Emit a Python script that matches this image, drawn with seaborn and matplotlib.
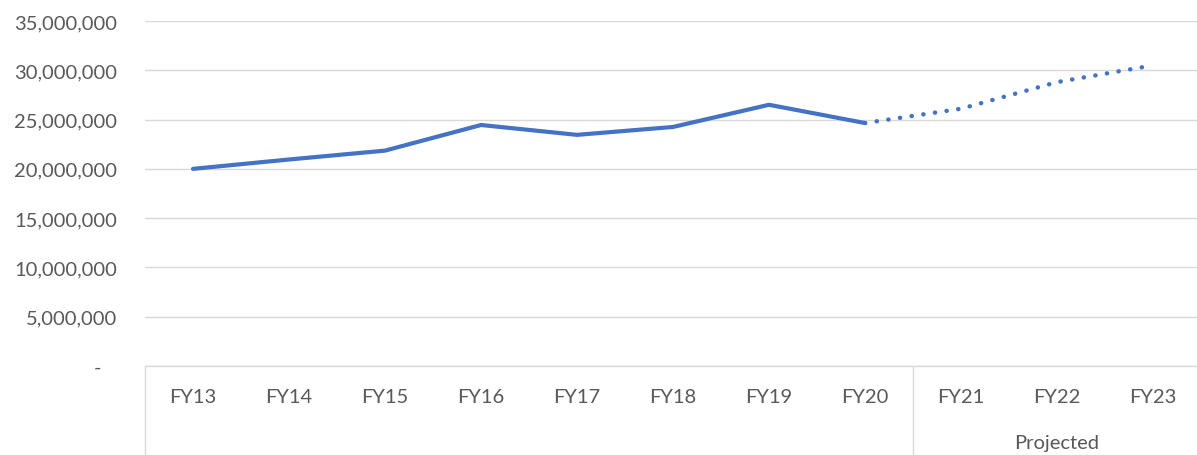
import matplotlib
matplotlib.use("Agg")
import matplotlib.pyplot as plt
import matplotlib.ticker as mticker
import seaborn as sns
import pandas as pd

# Fiscal-year totals: actuals through FY20, projections FY21-FY23
actual_years = ["FY13", "FY14", "FY15", "FY16", "FY17", "FY18", "FY19", "FY20"]
actual_values = [20_000_000, 20_950_000, 21_850_000, 24_450_000, 23_450_000,
                 24_250_000, 26_500_000, 24_650_000]

projected_years = ["FY20", "FY21", "FY22", "FY23"]
projected_values = [24_650_000, 26_100_000, 28_800_000, 30_500_000]

all_years = actual_years + projected_years[1:]
group_label = "Projected"

y_ticks = [0, 5_000_000, 10_000_000, 15_000_000, 20_000_000,
           25_000_000, 30_000_000, 35_000_000]

LINE = "#4472C4"
GRID = "#D9D9D9"
TEXT = "#595959"
FS = 14.5

sns.set_theme(style="white")
plt.rcParams["font.family"] = ["Lato", "DejaVu Sans"]

fig = plt.figure(figsize=(11.97, 4.56), dpi=100)
W, H = 1197, 456
ax = fig.add_axes([145 / W, (H - 367) / H, 1056 / W, (367 - 22) / H])

pos = {name: i for i, name in enumerate(all_years)}
df_actual = pd.DataFrame({"x": [pos[y] for y in actual_years], "value": actual_values})
df_proj = pd.DataFrame({"x": [pos[y] for y in projected_years], "value": projected_values})

sns.lineplot(data=df_actual, x="x", y="value", ax=ax, color=LINE, linewidth=3.0,
             solid_capstyle="round", solid_joinstyle="round")
sns.lineplot(data=df_proj, x="x", y="value", ax=ax, color=LINE, linewidth=3.2,
             dashes=False)
proj_line = ax.get_lines()[-1]
proj_line.set_linestyle((0, (0.05, 2.6)))
proj_line.set_dash_capstyle("round")

ax.set_xlim(-0.5, len(all_years) - 0.5)
ax.set_ylim(0, 35_000_000)
ax.set_yticks(y_ticks)
ax.yaxis.set_major_formatter(
    mticker.FuncFormatter(lambda v, p: "-   " if v == 0 else f"{int(v):,}"))
ax.set_xticks(range(len(all_years)))
ax.set_xticklabels(all_years)
ax.set_xlabel("")
ax.set_ylabel("")

ax.tick_params(axis="both", length=0, labelsize=FS, labelcolor=TEXT)
ax.tick_params(axis="y", pad=20)
ax.tick_params(axis="x", pad=16)

ax.grid(axis="y", color=GRID, linewidth=1.0)
ax.set_axisbelow(True)
for side in ["top", "right", "left"]:
    ax.spines[side].set_visible(False)
ax.spines["bottom"].set_color(GRID)
ax.spines["bottom"].set_linewidth(1.0)

# Category group box: left edge and divider before the projected years
box_bottom = -(H - 367) / (367 - 22) - 0.02
for xv in [-0.5, pos["FY20"] + 0.5]:
    ax.axvline(xv, ymin=box_bottom, ymax=0, color=GRID, linewidth=1.0, clip_on=False)

proj_center = (pos["FY21"] + pos["FY23"]) / 2
ax.text(proj_center, -77 / (367 - 22), group_label, transform=ax.get_xaxis_transform(),
        ha="center", va="center", fontsize=FS, color=TEXT)

fig.savefig("out.png", dpi=100, facecolor="white")
